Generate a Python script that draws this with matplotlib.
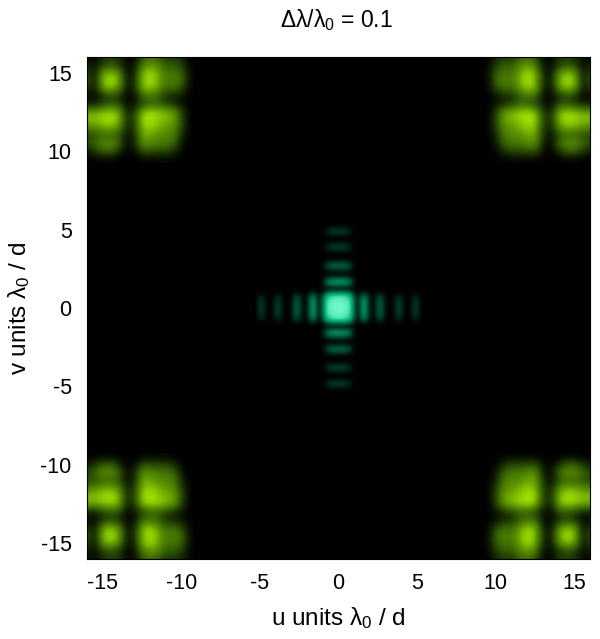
import numpy as np
import matplotlib
matplotlib.use("Agg")
import matplotlib.pyplot as plt
from matplotlib.colors import LinearSegmentedColormap

plt.rcParams["font.family"] = ["Liberation Sans", "DejaVu Sans"]
plt.rcParams["mathtext.fontset"] = "custom"
plt.rcParams["mathtext.rm"] = "Liberation Sans"
plt.rcParams["mathtext.it"] = "Liberation Sans"
plt.rcParams["mathtext.bf"] = "Liberation Sans"
plt.rcParams["axes.unicode_minus"] = False

# intensity (percent), nodes every 0.25 units, -5.5 to 5.5
centre_u = [0, 0, 22, 16, 1, 0, 18, 22, 3, 0, 5, 33, 30, 3, 8, 50, 52, 8, 38, 92, 98, 100,
            100, 100, 98, 92, 38, 8, 52, 52, 8, 3, 30, 33, 5, 0, 3, 24, 18, 0, 1, 16, 22, 0, 0]
centre_v = [0, 0, 16, 22, 1, 0, 18, 24, 3, 0, 6, 36, 31, 3, 10, 50, 52, 8, 38, 92, 98, 100,
            100, 100, 98, 92, 38, 8, 52, 50, 10, 3, 31, 36, 6, 0, 3, 22, 18, 0, 1, 22, 16, 0, 0]
# width of the arms across their length
centre_waist = [0] * 17 + [2, 38, 84, 96, 100, 100, 100, 96, 84, 38, 2] + [0] * 17

# one corner of the picture (top left), rows v = 16 .. 9.5, columns u = -16 .. -9.5, step 0.5
corner = [
    [5, 5, 20, 30, 25, 3, 3, 35, 50, 40, 20, 25, 15, 0],
    [15, 5, 25, 35, 25, 3, 8, 55, 70, 60, 40, 40, 25, 2],
    [30, 8, 70, 85, 65, 8, 15, 80, 95, 75, 50, 55, 40, 3],
    [40, 10, 85, 100, 80, 10, 20, 85, 100, 80, 55, 60, 45, 3],
    [25, 8, 70, 85, 65, 8, 15, 80, 90, 70, 45, 50, 30, 2],
    [5, 3, 20, 30, 20, 3, 5, 45, 50, 40, 20, 15, 8, 0],
    [15, 15, 30, 40, 35, 5, 8, 30, 45, 45, 30, 20, 8, 0],
    [75, 75, 85, 90, 80, 15, 25, 85, 95, 90, 80, 70, 25, 0],
    [85, 85, 95, 100, 85, 20, 30, 95, 100, 90, 80, 75, 30, 0],
    [60, 65, 75, 80, 65, 15, 25, 85, 90, 80, 70, 65, 25, 0],
    [30, 35, 45, 45, 35, 5, 20, 75, 75, 65, 60, 55, 15, 0],
    [35, 45, 65, 65, 50, 5, 15, 65, 65, 55, 55, 45, 8, 0],
    [10, 25, 40, 45, 20, 1, 5, 35, 35, 30, 30, 20, 2, 0],
    [0, 1, 3, 3, 1, 0, 0, 3, 3, 3, 3, 2, 0, 0],
]

ticks = [-15, -10, -5, 0, 5, 10, 15]

green = LinearSegmentedColormap.from_list(
    "green", [(0, "black"), (0.35, "#2a4f05"), (0.7, "#5f9600"), (1, "#a8e805")]
)
teal = LinearSegmentedColormap.from_list(
    "teal", [(0, "black"), (0.5, "#00825a"), (0.8, "#10c088"), (1, "#6ef5c8")]
)

fig = plt.figure(figsize=(6, 6.39), dpi=100)
ax = fig.add_axes([87 / 600, 1 - 559 / 639, 503 / 600, 502 / 639], facecolor="black")

# centre cross, arms get narrower further out
pu = np.array(centre_u) / 100
pv = np.array(centre_v) / 100
w = np.array(centre_waist) / 100
nodes = np.arange(len(pu)) * 0.25 - 5.5
narrow = 1 + np.abs(nodes)[:, None] / 1.5
arm_v = pv[:, None] * w[None, :] ** narrow
arm_u = pu[None, :] * (w[:, None] ** narrow.T)
cross = np.maximum(arm_v, arm_u)
ax.imshow(cross, extent=[-5.625, 5.625, -5.625, 5.625], origin="lower", cmap=teal,
          vmin=0, vmax=1, interpolation="bicubic", aspect="auto")

# four corners
tl = np.array(corner) / 100
kw = dict(cmap=green, vmin=0, vmax=1, interpolation="bicubic", aspect="auto", origin="upper")
ax.imshow(tl, extent=[-16.25, -9.25, 9.25, 16.25], **kw)
ax.imshow(tl[:, ::-1], extent=[9.25, 16.25, 9.25, 16.25], **kw)
ax.imshow(tl[::-1], extent=[-16.25, -9.25, -16.25, -9.25], **kw)
ax.imshow(tl[::-1, ::-1], extent=[9.25, 16.25, -16.25, -9.25], **kw)

ax.set_xlim(-16, 16)
ax.set_ylim(-16, 16)
ax.set_xticks(ticks)
ax.set_yticks(ticks)
ax.tick_params(axis="x", length=0, labelsize=15.5, pad=10)
ax.tick_params(axis="y", length=0, labelsize=15.5, pad=11)
for s in ax.spines.values():
    s.set_linewidth(0.8)

ax.set_xlabel(r"u units $\lambda_0$ / d", fontsize=17.5, labelpad=8)
ax.set_ylabel(r"v units $\lambda_0$ / d", fontsize=17.5, labelpad=6)
fig.text(336 / 600, 1 - 20 / 639, r"$\Delta\lambda/\lambda_0$ = 0.1", fontsize=16.5, ha="center", va="center")

fig.savefig("out.png", dpi=100)
